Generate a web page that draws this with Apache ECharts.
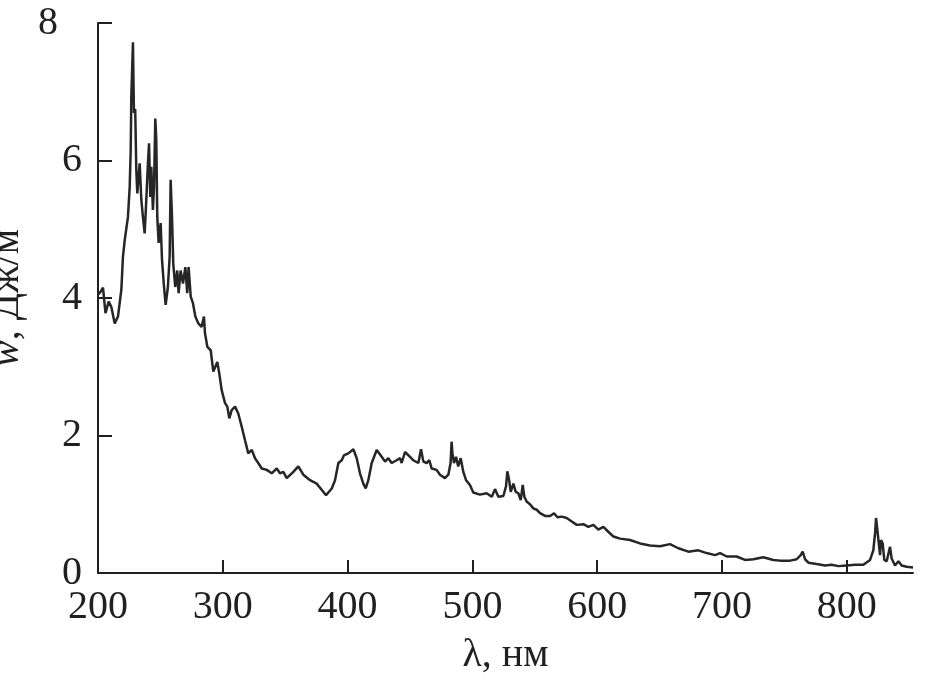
<!DOCTYPE html>
<html>
<head>
<meta charset="utf-8">
<script src="https://cdn.jsdelivr.net/npm/echarts@6/dist/echarts.min.js"></script>
<style>html,body{margin:0;padding:0;background:#fff}#c{width:925px;height:682px}</style>
</head>
<body>
<div id="c"></div>
<script>
var wavelength = [200,202,204,206,208.6,210.7,213.4,216,218.7,220,221.4,224,225.4,226.2,226.7,228,228.8,229.8,230.7,231.5,233.4,234.7,236,237.4,238.8,240,240.9,241.9,242.7,244,244.9,245.9,246.7,247.5,248.6,250.2,251.3,252.9,254.2,256,257.4,258.2,259.3,260.3,261.9,263.5,264.6,266.2,268.1,270,271.5,272.6,274.3,276,278,280.4,283,284.9,285.7,287.6,290.3,292.4,295.6,297.2,299.1,301.8,303.6,305.2,307.1,309.8,312.4,315.1,317.8,320.4,323.2,325.8,328.4,331.2,335.2,339.2,343.2,345.8,348.5,351.2,356.5,360.5,364.5,369.9,375.2,379.2,382.7,387.3,389.9,392.6,395.3,397,400.6,404.6,407.3,409.9,412.6,414.5,416.6,419.3,423.3,427.3,430,432.6,435.3,439.3,442,443.3,446,450,452.6,456.7,458.8,460.7,463.3,465.5,467.3,471.3,474,478,480.7,482.5,483.3,484,485.2,486.9,488.6,490.6,492.7,494.9,498,500.7,506,511.4,515.5,518.1,520.8,524.8,526.9,528,529.4,530.7,532.8,534.7,536.8,538.7,540.3,541.6,543.4,546.1,548.8,551.5,554.2,558.2,562.2,565.4,568.1,571.6,575.5,579.6,583.6,588.9,592.9,596.9,600.9,604.9,608.9,613,618.3,626.3,634.3,642.3,650.3,658.3,665,673,681,687.7,694.4,698.4,703.8,711.7,718.4,725.1,733.1,741.1,746.5,754.5,759.8,763,764.6,766.5,769.2,775.8,782.5,787.8,793.2,799.9,806.6,813.2,818.6,821.2,822.6,823.4,824.5,825.3,826.6,827.4,828.7,830,831.9,834.6,835.9,838.6,841.3,843.9,847.9,853];
var energy = [4.05,4.09,4.15,3.78,3.95,3.87,3.63,3.73,4.12,4.6,4.84,5.18,5.62,6.15,6.93,7.72,6.69,6.75,5.86,5.52,5.96,5.43,5.18,4.94,5.47,5.96,6.25,5.47,5.91,5.28,5.62,6.61,6.3,5.18,4.8,5.09,4.55,4.16,3.9,4.16,4.6,5.72,5.18,4.5,4.16,4.4,4.07,4.4,4.21,4.45,4.07,4.45,4.02,3.93,3.73,3.63,3.58,3.73,3.49,3.29,3.24,2.93,3.07,2.9,2.66,2.47,2.42,2.25,2.37,2.42,2.32,2.13,1.93,1.74,1.79,1.67,1.6,1.52,1.5,1.45,1.52,1.45,1.47,1.38,1.47,1.55,1.43,1.35,1.3,1.21,1.13,1.23,1.35,1.6,1.64,1.71,1.74,1.8,1.67,1.45,1.3,1.23,1.35,1.6,1.79,1.69,1.62,1.67,1.6,1.64,1.67,1.6,1.76,1.69,1.64,1.6,1.8,1.62,1.6,1.64,1.52,1.5,1.43,1.38,1.43,1.6,1.91,1.74,1.6,1.69,1.55,1.67,1.47,1.35,1.28,1.17,1.14,1.16,1.11,1.22,1.11,1.12,1.26,1.48,1.35,1.18,1.3,1.18,1.16,1.06,1.28,1.11,1.04,1.0,0.94,0.92,0.87,0.83,0.83,0.87,0.81,0.82,0.8,0.75,0.7,0.71,0.67,0.7,0.63,0.67,0.6,0.53,0.5,0.48,0.43,0.4,0.39,0.42,0.36,0.31,0.33,0.29,0.26,0.29,0.24,0.24,0.19,0.2,0.23,0.19,0.18,0.18,0.2,0.26,0.31,0.2,0.15,0.13,0.11,0.12,0.1,0.11,0.12,0.12,0.19,0.33,0.58,0.8,0.78,0.48,0.26,0.48,0.43,0.19,0.17,0.38,0.21,0.11,0.17,0.11,0.09,0.08];
var xTicks = [200,300,400,500,600,700,800];
var yTicks = [0,2,4,6,8];

var points = wavelength.map(function(x,i){return [x, energy[i]];});
var chart = echarts.init(document.getElementById('c'), null, {renderer:'canvas'});
var font = '"Liberation Serif", "Times New Roman", serif';
chart.setOption({
  animation:false,
  backgroundColor:'#fff',
  grid:{left:98,right:12,top:23,bottom:109,outerBoundsMode:'none',containLabel:false},
  xAxis:{
    type:'value', min:xTicks[0], max:853, interval:100,
    name:'λ, нм', nameLocation:'middle', nameGap:62,
    nameTextStyle:{fontFamily:font,fontSize:40,color:'#231f20'},
    axisLine:{lineStyle:{color:'#231f20',width:2}},
    axisTick:{show:true,inside:true,length:13,lineStyle:{color:'#231f20',width:2}},
    axisLabel:{fontFamily:font,fontSize:40,color:'#231f20',margin:14,showMaxLabel:false},
    splitLine:{show:false}
  },
  yAxis:{
    type:'value', min:yTicks[0], max:yTicks[yTicks.length-1], interval:2,
    name:'{i|w}, Дж/м', nameLocation:'middle', nameGap:27, nameRotate:90,
    nameTextStyle:{fontFamily:font,fontSize:40,color:'#231f20',
      rich:{i:{fontFamily:font,fontSize:40,fontStyle:'italic',color:'#231f20'}}},
    axisLine:{show:true,lineStyle:{color:'#231f20',width:2}},
    axisTick:{show:true,inside:true,length:14,lineStyle:{color:'#231f20',width:2}},
    axisLabel:{fontFamily:font,fontSize:40,color:'#231f20',margin:16,
      formatter:function(v){return v===8?'{e|8}':String(v);},
      rich:{e:{fontFamily:font,fontSize:40,color:'#231f20',padding:[0,24,0,0]}}},
    splitLine:{show:false}
  },
  series:[{
    type:'line', data:points, showSymbol:false, symbol:'none',
    lineStyle:{color:'#262626',width:2.5}
  }]
});
try {
  var m = chart.getModel();
  m.getComponent('yAxis',0).axis.getTicksCoords();
  m.getComponent('xAxis',0).axis.getTicksCoords();
} catch(e) {}
chart.setOption({graphic:[{type:'text',left:150,top:150,style:{text:' ',font:'12px sans-serif',fill:'#fff'}}]});
</script>
</body>
</html>
